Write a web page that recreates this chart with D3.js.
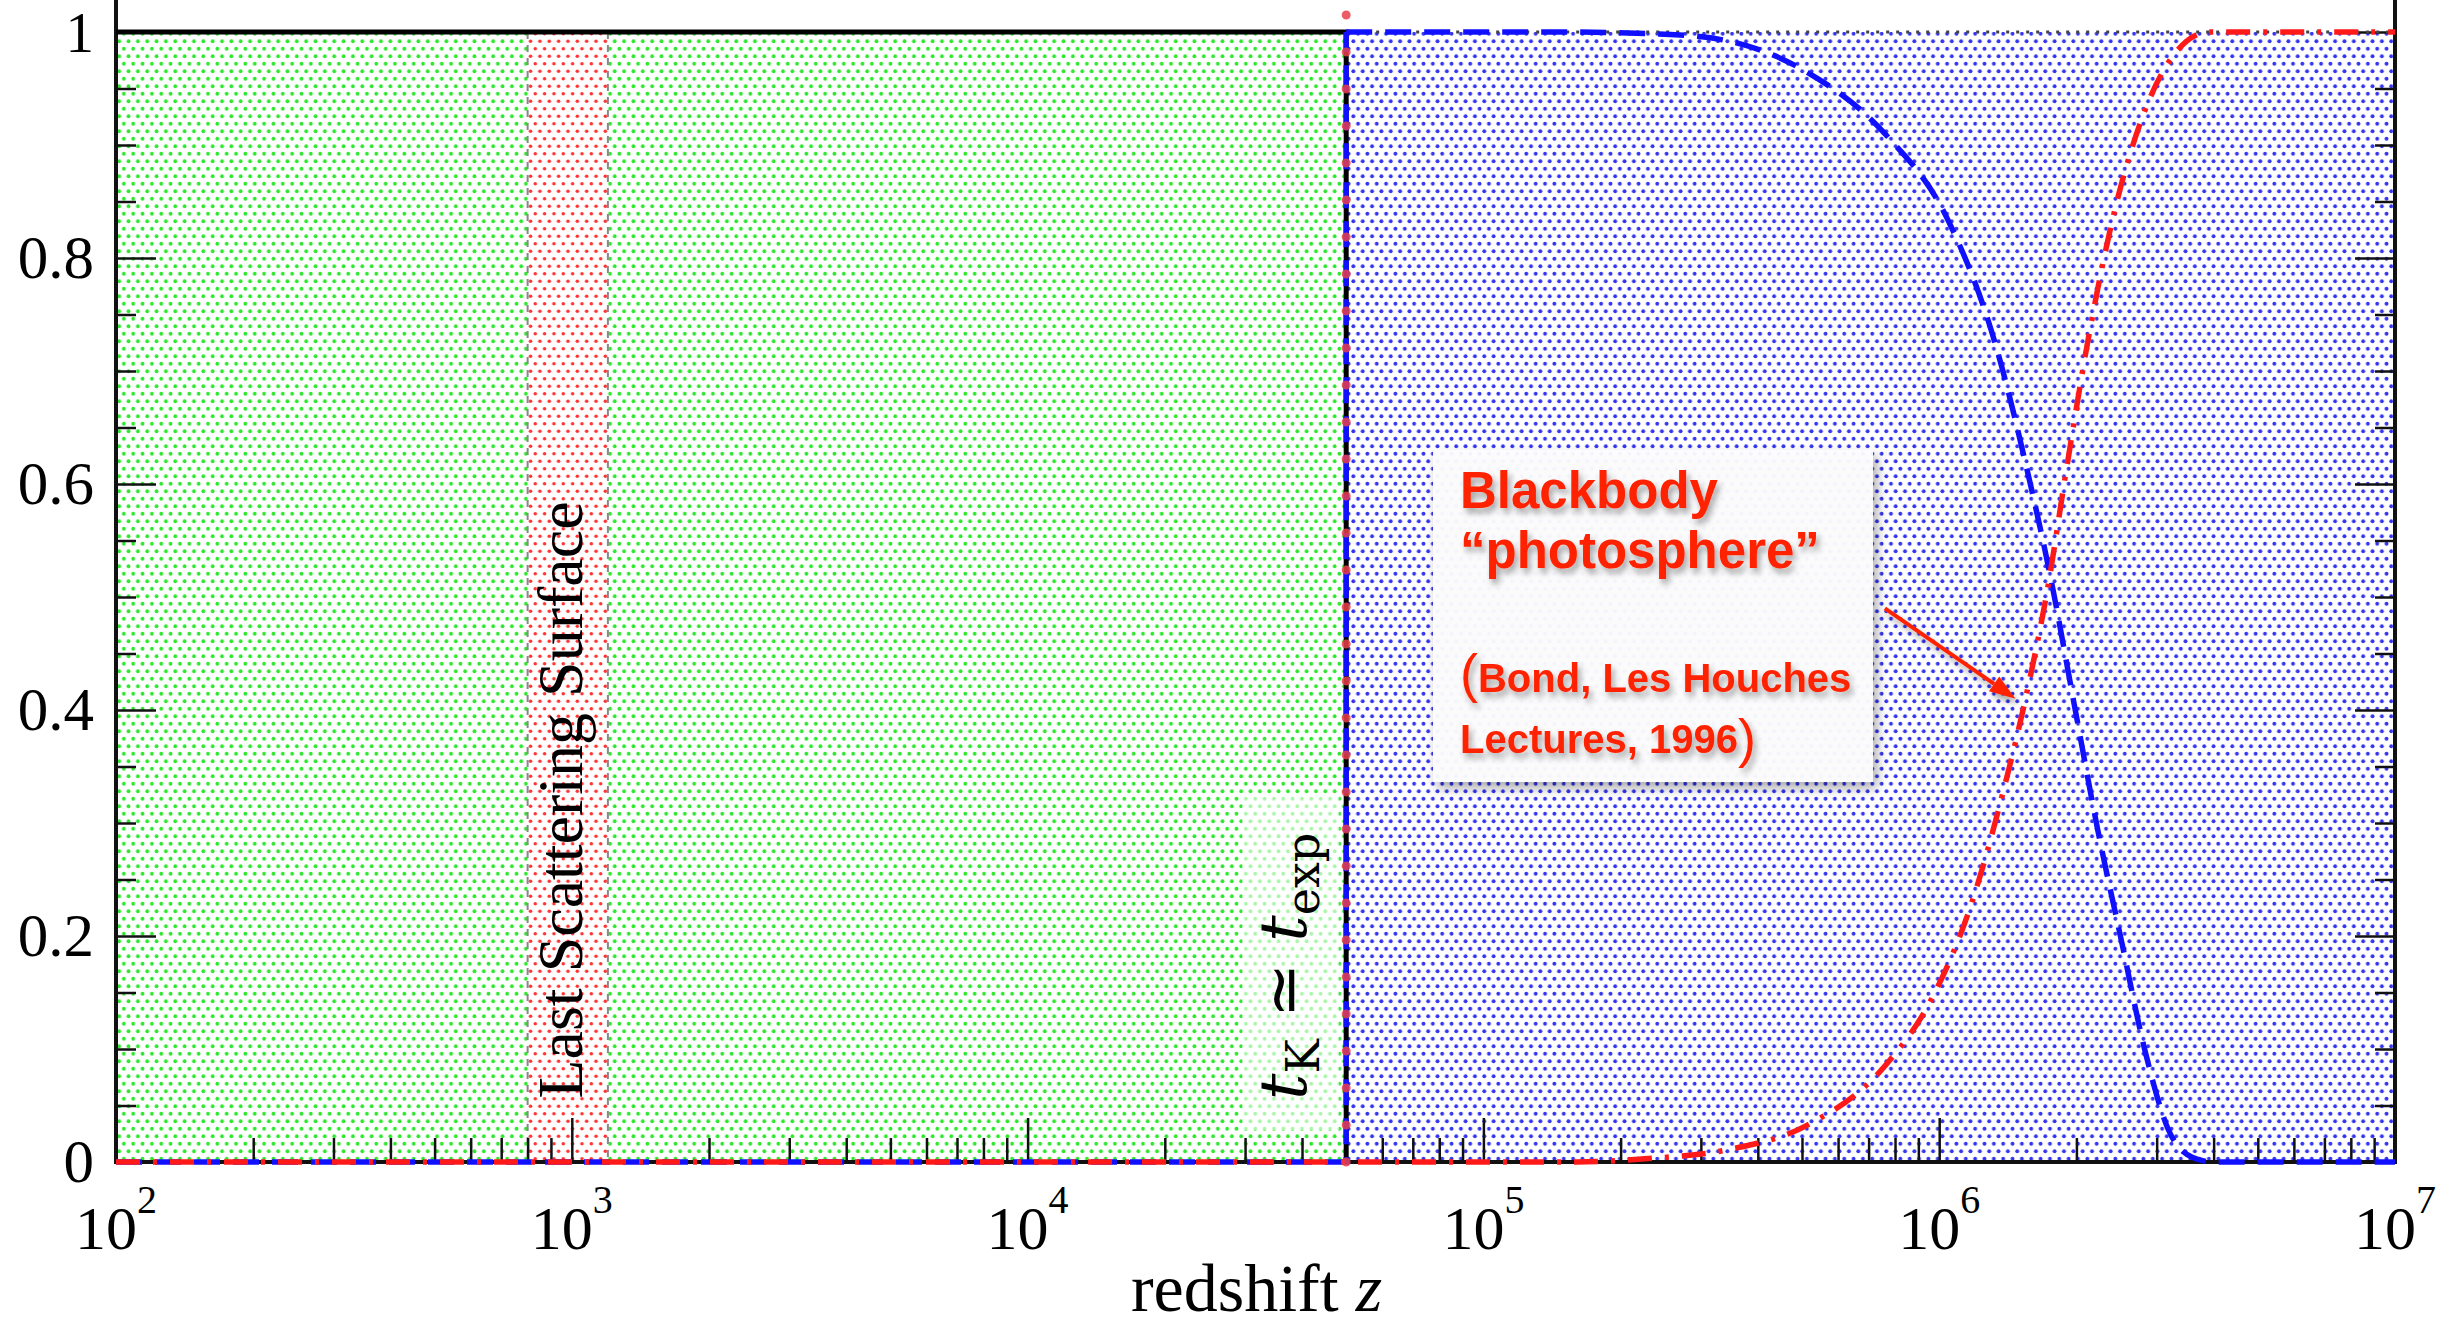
<!DOCTYPE html>
<html><head><meta charset="utf-8">
<script src="https://cdn.jsdelivr.net/npm/d3@7"></script>
<style>html,body{margin:0;padding:0;background:#fff;overflow:hidden}svg{display:block}</style>
</head><body>
<svg id="chart" width="2463" height="1330"></svg>
<script>
// ---------------- data ----------------
const zDomain = [1e2, 1e7];
const fDomain = [0, 1];
const yMajorTicks = [0, 0.2, 0.4, 0.6, 0.8, 1];
const yTickLabels = ["0", "0.2", "0.4", "0.6", "0.8", "1"];
const xMajorTicks = [1e2, 1e3, 1e4, 1e5, 1e6, 1e7];
const xTickBase = ["10", "10", "10", "10", "10", "10"];
const xTickExp = ["2", "3", "4", "5", "6", "7"];
const xAxisTitle = "redshift ";
const xAxisTitleVar = "z";

const tKz = 5e4;                  // t_K ~ t_exp transition
const lssRange = [800, 1200];     // last scattering surface band

// black step: complete thermalisation region
const blackZ = [1e2, 5e4, 5e4];
const blackF = [1, 1, 0];
const blackDotZ = [5e4, 1e7];
const blackDotF = [1, 1];

// blue dashed curve: step part and smooth part
const blueStepZ = [1e2, 5e4, 5e4];
const blueStepF = [0, 0, 1];
const blueZ = [5e4, 1.5e5, 2.5e5, 3.45e5, 5.1e5, 7.6e5, 1.05e6, 1.33e6, 1.56e6, 1.76e6, 1.98e6, 2.23e6, 2.51e6, 2.83e6, 3.18e6, 3.6e6, 4.0e6, 1e7];
const blueF = [1, 1, 0.998, 0.992, 0.965, 0.91, 0.832, 0.723, 0.612, 0.515, 0.404, 0.293, 0.196, 0.098, 0.029, 0.004, 0, 0];

// red dash-dot curve (blackbody photosphere)
const redZ = [1e2, 1.6e5, 2.3e5, 3.45e5, 5.1e5, 7.6e5, 9.7e5, 1.18e6, 1.38e6, 1.56e6, 1.73e6, 1.9e6, 2.14e6, 2.42e6, 2.83e6, 3.32e6, 3.9e6, 1e7];
const redF = [0, 0, 0.003, 0.011, 0.032, 0.085, 0.147, 0.23, 0.327, 0.417, 0.508, 0.612, 0.736, 0.84, 0.931, 0.983, 1, 1];

// red dotted marker at t_K
const redMarkZ = [5e4, 5e4];
const redMarkF = [0, 1.016];

// annotation arrow (tail -> head)
const arrowZ = [7.6e5, 1.47e6];
const arrowF = [0.49, 0.41];

// ---------------- layout ----------------
const X0 = 116, X1 = 2395, Y0 = 1162, Y1 = 32;
const svg = d3.select("#chart");
const x = d3.scaleLog().domain(zDomain).range([X0, X1]);
const y = d3.scaleLinear().domain(fDomain).range([Y0, Y1]);

const defs = svg.append("defs");
function dotPattern(id, color, r) {
  const p = defs.append("pattern").attr("id", id).attr("patternUnits", "userSpaceOnUse")
    .attr("width", 9.35).attr("height", 15.0);
  p.append("rect").attr("width", 9.35).attr("height", 15.0).attr("fill", "#fff");
  p.append("circle").attr("cx", 2.3).attr("cy", 3.75).attr("r", r).attr("fill", color);
  p.append("circle").attr("cx", 6.97).attr("cy", 11.25).attr("r", r).attr("fill", color);
}
dotPattern("pGreen", "#2ee82e", 1.9);
dotPattern("pBlue", "#3535f0", 1.95);
dotPattern("pRed", "#ff3535", 1.8);

const fShadow = defs.append("filter").attr("id", "txtShadow").attr("x", "-10%").attr("y", "-30%").attr("width", "130%").attr("height", "170%");
fShadow.append("feDropShadow").attr("dx", 3).attr("dy", 5).attr("stdDeviation", 3).attr("flood-color", "#000").attr("flood-opacity", 0.35);
const fBox = defs.append("filter").attr("id", "boxShadow").attr("x", "-10%").attr("y", "-10%").attr("width", "130%").attr("height", "130%");
fBox.append("feDropShadow").attr("dx", 4).attr("dy", 6).attr("stdDeviation", 6).attr("flood-color", "#000").attr("flood-opacity", 0.35);

// ---------------- regions ----------------
svg.append("rect").attr("x", x(zDomain[0])).attr("y", y(1)).attr("width", x(tKz) - x(zDomain[0])).attr("height", y(0) - y(1)).attr("fill", "url(#pGreen)");
svg.append("rect").attr("x", x(tKz)).attr("y", y(1)).attr("width", x(zDomain[1]) - x(tKz)).attr("height", y(0) - y(1)).attr("fill", "url(#pBlue)");
svg.append("rect").attr("x", x(lssRange[0])).attr("y", y(1)).attr("width", x(lssRange[1]) - x(lssRange[0])).attr("height", y(0) - y(1)).attr("fill", "url(#pRed)");
lssRange.forEach(v => {
  svg.append("line").attr("x1", x(v)).attr("x2", x(v)).attr("y1", y(1)).attr("y2", y(0))
    .attr("stroke", "#888").attr("stroke-width", 2).attr("stroke-dasharray", "7,6");
});

// LSS label
svg.append("text").attr("transform", `translate(${(x(lssRange[0]) + x(lssRange[1])) / 2 + 14},${y(0.5) + 203}) rotate(-90)`)
  .attr("text-anchor", "middle").attr("font-family", "Liberation Serif, Times New Roman, serif")
  .attr("font-size", 64).attr("fill", "#000").text("Last Scattering Surface");

// t_K ~ t_exp label with faint white box
svg.append("rect").attr("x", x(tKz) - 104).attr("y", y(0.5) + 198).attr("width", 97).attr("height", 335)
  .attr("fill", "#fff").attr("opacity", 0.6);
const tk = svg.append("text").attr("transform", `translate(${x(tKz) - 40},${y(0.5) + 503}) rotate(-90)`)
  .attr("font-family", "DejaVu Serif, Liberation Serif, serif").attr("font-size", 66).attr("fill", "#000");
tk.append("tspan").attr("font-style", "italic").text("t");
tk.append("tspan").attr("font-size", 46).attr("dy", 13).text("K");
tk.append("tspan").attr("dy", -13).text(" \u2243 ");
tk.append("tspan").attr("font-style", "italic").text("t");
tk.append("tspan").attr("font-size", 46).attr("dy", 13).text("exp");

// ---------------- frame & axes ----------------
const xMinor = x.ticks().filter(v => !xMajorTicks.includes(v));
const gxMinor = svg.append("g").attr("transform", `translate(0,${Y0})`)
  .call(d3.axisBottom(x).tickValues(xMinor).tickSize(-24).tickSizeOuter(0).tickFormat(""));
const gxMajor = svg.append("g").attr("transform", `translate(0,${Y0})`)
  .call(d3.axisBottom(x).tickValues(xMajorTicks).tickSize(-44).tickSizeOuter(0).tickFormat(""));
const yMinor = d3.range(0.05, 1, 0.05).filter(v => !yMajorTicks.some(m => Math.abs(m - v) < 1e-6));
const gyl1 = svg.append("g").attr("transform", `translate(${X0},0)`)
  .call(d3.axisLeft(y).tickValues(yMinor).tickSize(-20).tickSizeOuter(0).tickFormat(""));
const gyl2 = svg.append("g").attr("transform", `translate(${X0},0)`)
  .call(d3.axisLeft(y).tickValues(yMajorTicks).tickSize(-40).tickSizeOuter(0).tickFormat(""));
const gyr1 = svg.append("g").attr("transform", `translate(${X1},0)`)
  .call(d3.axisRight(y).tickValues(yMinor).tickSize(-20).tickSizeOuter(0).tickFormat(""));
const gyr2 = svg.append("g").attr("transform", `translate(${X1},0)`)
  .call(d3.axisRight(y).tickValues(yMajorTicks).tickSize(-40).tickSizeOuter(0).tickFormat(""));
[gxMinor, gxMajor, gyl1, gyl2, gyr1, gyr2].forEach(g => {
  g.select(".domain").remove();
  g.selectAll(".tick line").attr("stroke", "#111").attr("stroke-width", 2.5);
});

// frame lines
svg.append("line").attr("x1", X0).attr("x2", X0).attr("y1", 0).attr("y2", Y0 + 2).attr("stroke", "#111").attr("stroke-width", 4);
svg.append("line").attr("x1", X1).attr("x2", X1).attr("y1", 0).attr("y2", Y0 + 2).attr("stroke", "#111").attr("stroke-width", 4);
svg.append("line").attr("x1", X0).attr("x2", X1).attr("y1", Y0).attr("y2", Y0).attr("stroke", "#111").attr("stroke-width", 4);

// y tick labels
svg.append("g").selectAll("text").data(yMajorTicks).join("text")
  .attr("x", X0 - 22).attr("y", d => y(d) + 20).attr("text-anchor", "end")
  .attr("font-family", "Liberation Serif, Times New Roman, serif").attr("font-size", d => d === 1 ? 57 : 61).attr("fill", "#000")
  .text((d, i) => yTickLabels[i]);

// x tick labels 10^n
const xl = svg.append("g").selectAll("text").data(xMajorTicks).join("text")
  .attr("x", d => x(d)).attr("y", Y0 + 87).attr("text-anchor", "middle")
  .attr("font-family", "Liberation Serif, Times New Roman, serif").attr("font-size", 62).attr("fill", "#000");
xl.append("tspan").text((d, i) => xTickBase[i]);
xl.append("tspan").attr("font-size", 40).attr("dy", -36).text((d, i) => xTickExp[i]);

// x axis title
const xt = svg.append("text").attr("x", (X0 + X1) / 2 + 1).attr("y", 1311).attr("text-anchor", "middle")
  .attr("font-family", "Liberation Serif, Times New Roman, serif").attr("font-size", 68).attr("fill", "#000");
xt.append("tspan").text(xAxisTitle);
xt.append("tspan").attr("font-style", "italic").text(xAxisTitleVar);

// ---------------- curves ----------------
const line = d3.line().x(d => x(d[0])).y(d => y(d[1]));
const smooth = d3.line().x(d => x(d[0])).y(d => y(d[1])).curve(d3.curveMonotoneX);
svg.append("path").attr("d", line(d3.zip(blackZ, blackF))).attr("fill", "none")
  .attr("stroke", "#000").attr("stroke-width", 5);
svg.append("path").attr("d", line(d3.zip(blackDotZ, blackDotF))).attr("fill", "none")
  .attr("stroke", "#444").attr("stroke-width", 3).attr("stroke-dasharray", "3,7");
svg.append("path").attr("d", line(d3.zip(blueStepZ, blueStepF))).attr("fill", "none")
  .attr("stroke", "#1010ff").attr("stroke-width", 5.5).attr("stroke-dasharray", "26,13");
svg.append("path").attr("d", smooth(d3.zip(blueZ, blueF))).attr("fill", "none")
  .attr("stroke", "#1010ff").attr("stroke-width", 5.5).attr("stroke-dasharray", "26,13");
svg.append("path").attr("d", smooth(d3.zip(redZ, redF))).attr("fill", "none")
  .attr("stroke", "#ff1a1a").attr("stroke-width", 5.5).attr("stroke-dasharray", "24,13,4,13");
svg.append("path").attr("d", line(d3.zip(redMarkZ, redMarkF))).attr("fill", "none")
  .attr("stroke", "#e8404a").attr("stroke-opacity", 0.85).attr("stroke-width", 9)
  .attr("stroke-linecap", "round").attr("stroke-dasharray", "0,37");

// ---------------- annotation ----------------
const bx = 1433, by = 450, bw = 440, bh = 332;
svg.append("rect").attr("x", bx).attr("y", by).attr("width", bw).attr("height", bh)
  .attr("fill", "#fdfdfe").attr("fill-opacity", 0.95).attr("filter", "url(#boxShadow)");
const ann = svg.append("g").attr("font-family", "Liberation Sans, Arial, sans-serif").attr("font-weight", "bold")
  .attr("fill", "#ff2200").attr("filter", "url(#txtShadow)");
ann.append("text").attr("x", bx + 27).attr("y", 508).attr("font-size", 51).text("Blackbody");
ann.append("text").attr("x", bx + 27).attr("y", 568).attr("font-size", 51).text("\u201Cphotosphere\u201D");
const a3 = ann.append("text").attr("x", bx + 27).attr("y", 692).attr("font-size", 40);
a3.append("tspan").attr("font-size", 54).attr("font-weight", "normal").text("(");
a3.append("tspan").text("Bond, Les Houches");
const a4 = ann.append("text").attr("x", bx + 27).attr("y", 753).attr("font-size", 40);
a4.append("tspan").text("Lectures, 1996");
a4.append("tspan").attr("font-size", 54).attr("font-weight", "normal").attr("dy", 4).text(")");

// arrow
const ax0 = x(arrowZ[0]), ay0 = y(arrowF[0]), ax1 = x(arrowZ[1]), ay1 = y(arrowF[1]);
const ang = Math.atan2(ay1 - ay0, ax1 - ax0);
const hl = 26, hw = 9;
const bxp = ax1 - hl * Math.cos(ang), byp = ay1 - hl * Math.sin(ang);
const ag = svg.append("g").attr("filter", "url(#txtShadow)");
ag.append("line").attr("x1", ax0).attr("y1", ay0).attr("x2", bxp).attr("y2", byp)
  .attr("stroke", "#ff2200").attr("stroke-width", 4);
ag.append("path").attr("d", d3.line()([
  [ax1, ay1],
  [bxp + hw * Math.sin(ang), byp - hw * Math.cos(ang)],
  [bxp - hw * Math.sin(ang), byp + hw * Math.cos(ang)]
]) + "Z").attr("fill", "#ff2200");
</script>
</body></html>
